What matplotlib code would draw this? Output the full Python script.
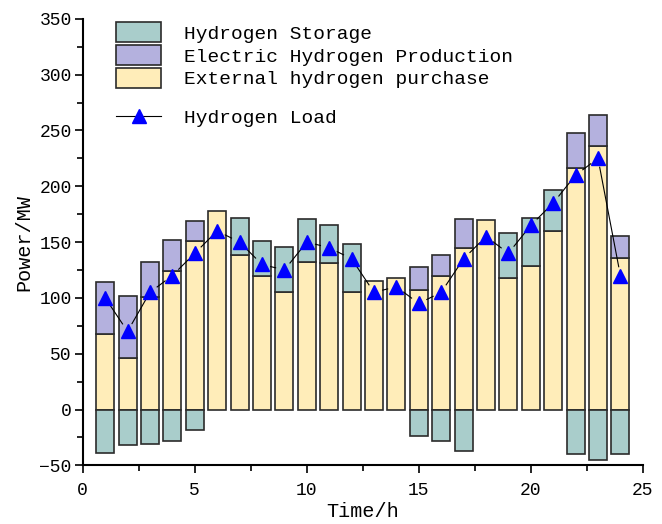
import numpy as np
import matplotlib
matplotlib.use("Agg")
import matplotlib.pyplot as plt
from matplotlib.ticker import MultipleLocator
from matplotlib.patches import Patch
from matplotlib.lines import Line2D

plt.rcParams['font.family'] = ['Liberation Mono', 'DejaVu Sans']

hours = np.arange(1, 25)
purchase = [68, 46, 101, 124, 151, 178, 138.5, 120, 105.5, 132.5, 131.5, 105.5,
            115.5, 117.5, 107, 120, 145, 170, 117.5, 128.5, 159.5, 216.5, 236.5, 135.5]
production = [46, 56, 31.5, 27.5, 17.5, 0, 0, 0, 0, 0, 0, 0,
              0, 0, 21, 18.5, 25.5, 0, 0, 0, 0, 31, 27, 20]
storage = [-39, -32, -31, -28, -18, 0, 33.5, 31, 40.5, 38.5, 33.5, 42.5,
           0, 0, -24, -28, -37, 0, 40.5, 43.5, 37, -40, -45.5, -39.5]
load = [100, 70, 105, 120, 140, 160, 150, 130, 125, 150, 145, 135,
        105, 110, 95, 105, 135, 155, 140, 165, 185, 210, 225, 120]

c_sto = '#a9cdcb'
c_pro = '#b4b1de'
c_buy = '#ffedb9'
edge = '#2b2b2b'

purchase = np.array(purchase)
production = np.array(production)
storage = np.array(storage)

fig = plt.figure(figsize=(6.62, 5.24), dpi=100)
ax = fig.add_axes([0.125, 0.112, 0.846, 0.852])

w = 0.8
kw = dict(width=w, edgecolor=edge, linewidth=1.2)
ax.bar(hours, purchase, color=c_buy, **kw)
pm = production > 0
ax.bar(hours[pm], production[pm], bottom=purchase[pm], color=c_pro, **kw)
sp = storage > 0
ax.bar(hours[sp], storage[sp], bottom=(purchase + production)[sp], color=c_sto, **kw)
sn = storage < 0
ax.bar(hours[sn], storage[sn], bottom=0, color=c_sto, **kw)

ax.set_xlim(0, 25)
ax.set_ylim(-50, 350)

# connecting line with small gaps around each marker
pts = ax.transData.transform(np.column_stack([hours, load]))
gap = 9.0
for p0, p1 in zip(pts[:-1], pts[1:]):
    d = p1 - p0
    L = np.hypot(*d)
    if L <= 2 * gap:
        continue
    u = d / L
    seg = ax.transData.inverted().transform([p0 + u * gap, p1 - u * gap])
    ax.plot(seg[:, 0], seg[:, 1], color='black', linewidth=0.8, zorder=4)
ax.plot(hours, load, linestyle='none', marker='^', markersize=10,
        markerfacecolor='blue', markeredgecolor='blue', zorder=5)

ax.xaxis.set_major_locator(MultipleLocator(5))
ax.xaxis.set_minor_locator(MultipleLocator(2.5))
ax.yaxis.set_major_locator(MultipleLocator(50))
ax.yaxis.set_minor_locator(MultipleLocator(25))
ax.tick_params(which='major', direction='out', length=6, width=1.2, labelsize=13)
ax.tick_params(axis='x', which='major', pad=6)
ax.tick_params(axis='y', which='major', pad=2)
ax.tick_params(which='minor', direction='out', length=4, width=1.2)
for s in ['top', 'right']:
    ax.spines[s].set_visible(False)
for s in ['left', 'bottom']:
    ax.spines[s].set_linewidth(1.5)

ax.set_xlabel('Time/h', fontsize=14.5, labelpad=2)
ax.set_ylabel('Power/MW', fontsize=14.5, labelpad=4)

handles = [Patch(facecolor=c_sto, edgecolor=edge, linewidth=1.2),
           Patch(facecolor=c_pro, edgecolor=edge, linewidth=1.2),
           Patch(facecolor=c_buy, edgecolor=edge, linewidth=1.2)]
labels = ['Hydrogen Storage', 'Electric Hydrogen Production', 'External hydrogen purchase']
leg1 = ax.legend(handles, labels, loc='upper left', bbox_to_anchor=(0.045, 1.01),
                 frameon=False, fontsize=14, handlelength=2.35, handleheight=1.2,
                 handletextpad=1.15, labelspacing=0.12, borderaxespad=0)
ax.add_artist(leg1)
lh = Line2D([], [], color='black', linewidth=0.8, marker='^', markersize=10,
            markerfacecolor='blue', markeredgecolor='blue')
ax.legend([lh], ['Hydrogen Load'], loc='upper left', bbox_to_anchor=(0.045, 0.815),
          frameon=False, fontsize=14, handlelength=2.35, handletextpad=1.15,
          borderaxespad=0)

fig.savefig('out.png', dpi=100)
